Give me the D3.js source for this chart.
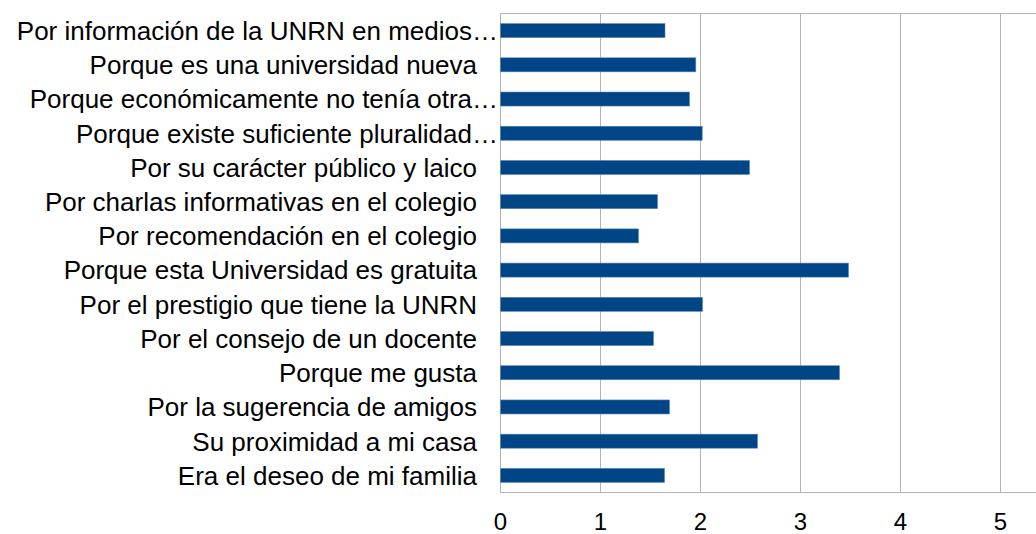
<!DOCTYPE html>
<html>
<head>
<meta charset="utf-8">
<script src="https://cdn.jsdelivr.net/npm/d3@7"></script>
<style>
  body { margin: 0; background: #fff; }
  svg { display: block; font-family: "Liberation Sans", Arial, sans-serif; }
</style>
</head>
<body>
<div id="chart"></div>
<script>
// Categories (top to bottom) and values
const categories = [
  "Por información de la UNRN en medios…",
  "Porque es una universidad nueva",
  "Porque económicamente no tenía otra…",
  "Porque existe suficiente pluralidad…",
  "Por su carácter público y laico",
  "Por charlas informativas en el colegio",
  "Por recomendación en el colegio",
  "Porque esta Universidad es gratuita",
  "Por el prestigio que tiene la UNRN",
  "Por el consejo de un docente",
  "Porque me gusta",
  "Por la sugerencia de amigos",
  "Su proximidad a mi casa",
  "Era el deseo de mi familia"
];
const values = [1.645, 1.953, 1.89, 2.017, 2.49, 1.57, 1.38, 3.48, 2.02, 1.53, 3.39, 1.69, 2.57, 1.64];
const xTicks = [0, 1, 2, 3, 4, 5];

const width = 1036, height = 534;
const margin = { top: 13.5, right: 0, bottom: 41.5, left: 500.5 };

const svg = d3.select("#chart")
  .append("svg")
  .attr("width", width)
  .attr("height", height);

// X scale: 100px per unit
const x = d3.scaleLinear()
  .domain([0, 5.355])
  .range([margin.left, width]);

const y = d3.scaleBand()
  .domain(categories)
  .range([margin.top, height - margin.bottom])
  .paddingInner(0.59)
  .paddingOuter(0.295);

// Gridlines
svg.append("g")
  .selectAll("line")
  .data(xTicks.slice(1))
  .enter()
  .append("line")
  .attr("x1", (d) => x(d))
  .attr("x2", (d) => x(d))
  .attr("y1", margin.top)
  .attr("y2", height - margin.bottom)
  .attr("stroke", "#b3b3b3")
  .attr("stroke-width", 1);

// Frame lines: top, left, bottom
svg.append("line")
  .attr("x1", margin.left).attr("x2", width)
  .attr("y1", margin.top).attr("y2", margin.top)
  .attr("stroke", "#b3b3b3");
svg.append("line")
  .attr("x1", margin.left).attr("x2", width)
  .attr("y1", height - margin.bottom).attr("y2", height - margin.bottom)
  .attr("stroke", "#b3b3b3");
svg.append("line")
  .attr("x1", margin.left).attr("x2", margin.left)
  .attr("y1", margin.top).attr("y2", height - margin.bottom)
  .attr("stroke", "#b3b3b3");

// Bars
svg.selectAll(".bar")
  .data(categories)
  .enter()
  .append("rect")
  .attr("class", "bar")
  .attr("x", x(0))
  .attr("y", (d) => y(d))
  .attr("width", (d, i) => x(values[i]) - x(0))
  .attr("height", y.bandwidth())
  .attr("fill", "#004586")
  .attr("stroke", "#5b86b5")
  .attr("stroke-width", 0.6);

// Category labels
svg.append("g")
  .selectAll("text")
  .data(categories)
  .enter()
  .append("text")
  .attr("x", (d) => d.endsWith("…") ? 498 : 477)
  .attr("y", (d) => y(d) + y.bandwidth() / 2)
  .attr("dy", "0.36em")
  .attr("text-anchor", "end")
  .style("font-size", "26px")
  .style("fill", "#000")
  .text((d) => d);

// X tick labels
svg.append("g")
  .selectAll("text")
  .data(xTicks)
  .enter()
  .append("text")
  .attr("x", (d) => x(d))
  .attr("y", 530)
  .attr("text-anchor", "middle")
  .style("font-size", "24px")
  .style("fill", "#000")
  .text((d) => d);
</script>
</body>
</html>
